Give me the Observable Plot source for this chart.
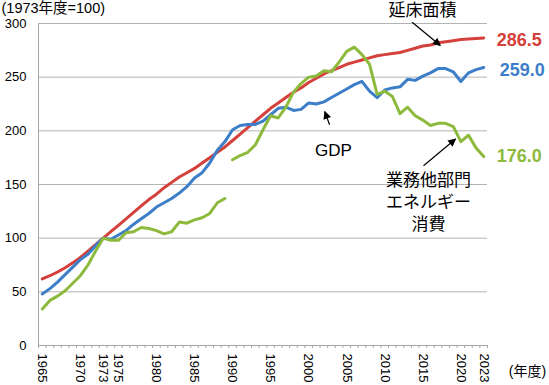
<!DOCTYPE html>
<html>
<head>
<meta charset="utf-8">
<script src="https://cdn.jsdelivr.net/npm/d3@7"></script>
<script src="https://cdn.jsdelivr.net/npm/@observablehq/plot@0.6"></script>
<style>
  html, body { margin: 0; padding: 0; background: white; }
</style>
</head>
<body>
<script>
// ---- data (1973年度 = 100) ----
const years = [1965,1966,1967,1968,1969,1970,1971,1972,1973,1974,1975,1976,1977,1978,1979,
  1980,1981,1982,1983,1984,1985,1986,1987,1988,1989,1990,1991,1992,1993,1994,1995,1996,1997,
  1998,1999,2000,2001,2002,2003,2004,2005,2006,2007,2008,2009,2010,2011,2012,2013,2014,2015,
  2016,2017,2018,2019,2020,2021,2022,2023];

const floorArea = [62,65,68.5,72.5,77,82,88,94,100,106,112,118,124,130,136,
  141,147,152,157,161,165,170,175,180,185,191,197,203,209,215,221,226,231,
  236,240,245,249,253,256,259,262,264,266,268,270,271,272,273,275,277,279,
  280,282,283,284,285,285.5,286,286.5];

const gdp = [48,53,59,66,73,80,85,93,100,99,103,107,113,118,123,
  129,133,137,142,148,156,161,170,182,190,201,205,206,206,209,215,221,222,
  219,220,226,225,227,231,235,239,243,246,237,231,238,240,241,248,247,251,
  254,258,258,255,246,254,257,259];

const energy = [34,42,46,51,58,65,75,88,100,98,98,105,106,110,109,
  107,104,106,115,114,117,119,123,133,137,173,177,180,187,201,214,212,222,
  236,244,250,251,256,255,264,274,278,271,262,234,237,232,216,222,214,210,
  205,207,207,204,190,196,184,176];

// statistics break: series is drawn as two segments (through 1989 / from 1990)
const energyBreakYear = 1990;

const yTicks = [0, 50, 100, 150, 200, 250, 300];
const xTickLabels = [1965,1970,1973,1975,1980,1985,1990,1995,2000,2005,2010,2015,2020,2023];
const seriesNames = { floor: "延床面積", gdp: "GDP", energy: "業務他部門\nエネルギー\n消費" };
const unitLabel = "(1973年度=100)";
const xUnitLabel = "(年度)";

// ---- build tables ----
const floorRows = years.map((year, i) => ({year, value: floorArea[i]}));
const gdpRows = years.map((year, i) => ({year, value: gdp[i]}));
const energyRows = years.map((year, i) => ({year, value: energy[i], seg: year < energyBreakYear ? 1 : 2}));
const boundaries = years.map(y => y - 0.5).concat([years[years.length - 1] + 0.5]);

const RED = "#d4403a", BLUE = "#3d7ec9", GREEN = "#8dba3c", AXIS = "#a6a6a6", GRID = "#b3b3b3";
const FONT = "'Liberation Sans', Arial, 'Noto Sans CJK JP', sans-serif";

const last = rows => [rows[rows.length - 1]];

const chart = Plot.plot({
  width: 549,
  height: 385,
  marginLeft: 38,
  marginRight: 62,
  marginTop: 23,
  marginBottom: 40,
  style: { fontFamily: FONT, fontSize: "13px", background: "white", color: "black", overflow: "visible" },
  x: { domain: [years[0] - 0.5, years[years.length - 1] + 0.5], axis: null },
  y: { domain: [0, 300], axis: null },
  marks: [
    Plot.gridY(yTicks.slice(1), { stroke: GRID, strokeOpacity: 1, strokeWidth: 1 }),
    Plot.axisY(yTicks, { anchor: "left", tickSize: 0, tickPadding: 12, fontSize: 13, label: null }),
    Plot.ruleX([boundaries[0]], { stroke: AXIS, strokeWidth: 1 }),
    Plot.ruleY([0], { stroke: AXIS, strokeWidth: 1 }),
    Plot.axisX(boundaries, { anchor: "bottom", tickSize: 3, tickFormat: () => "", stroke: AXIS, label: null }),
    Plot.axisX(xTickLabels, { anchor: "bottom", tickSize: 0, tickPadding: 8, tickRotate: 90,
      tickFormat: d => String(d), fontSize: 13, label: null }),

    Plot.line(floorRows, { x: "year", y: "value", stroke: RED, strokeWidth: 3 }),
    Plot.line(gdpRows, { x: "year", y: "value", stroke: BLUE, strokeWidth: 3 }),
    Plot.line(energyRows, { x: "year", y: "value", z: "seg", stroke: GREEN, strokeWidth: 3 }),

    Plot.text(last(floorRows), { x: "year", y: "value", text: d => d.value.toFixed(1), dx: 13, dy: 2,
      textAnchor: "start", fill: RED, fontSize: 18, fontWeight: "bold" }),
    Plot.text(last(gdpRows), { x: "year", y: "value", text: d => d.value.toFixed(1), dx: 16, dy: 3,
      textAnchor: "start", fill: BLUE, fontSize: 18, fontWeight: "bold" }),
    Plot.text(last(energyRows), { x: "year", y: "value", text: d => d.value.toFixed(1), dx: 13, dy: 0,
      textAnchor: "start", fill: GREEN, fontSize: 18, fontWeight: "bold" }),

    // annotations
    Plot.text([seriesNames.floor], { x: 2014.96, y: 312.1, text: d => d, fontSize: 17, fill: "black",
      textAnchor: "middle", lineAnchor: "middle" }),
    Plot.text([seriesNames.gdp], { x: 2003.27, y: 181.5, text: d => d, fontSize: 17, fill: "black",
      textAnchor: "middle", lineAnchor: "middle" }),
    Plot.text([seriesNames.energy], { x: 2015.75, y: 134.8, text: d => d, fontSize: 17, fill: "black",
      textAnchor: "middle", lineAnchor: "middle", lineHeight: 1.32 }),
    Plot.link([
      { x1: 2013.6, y1: 301.2, x2: 2017.3, y2: 279.5 },
      { x1: 2002.75, y1: 205.7, x2: 2002.12, y2: 217.9 },
      { x1: 2015.09, y1: 167.5, x2: 2019.3, y2: 192.4 }
    ], { x1: "x1", y1: "y1", x2: "x2", y2: "y2", stroke: "black", strokeWidth: 1.2 }),

    Plot.text([unitLabel], { frameAnchor: "top-left", dx: -37, dy: -15, text: d => d, fontSize: 14.5,
      textAnchor: "start", lineAnchor: "middle", fill: "black" }),
    Plot.text([xUnitLabel], { frameAnchor: "bottom-right", dx: 40, dy: 26, text: d => d, fontSize: 14,
      textAnchor: "middle", lineAnchor: "middle", fill: "black" })
  ]
});

document.body.append(chart);

// filled arrow heads for the annotation links
const svgSel = d3.select(chart);
const defs = svgSel.insert("defs", ":first-child");
defs.append("marker")
  .attr("id", "ahead")
  .attr("viewBox", "0 0 10 10")
  .attr("refX", 9).attr("refY", 5)
  .attr("markerUnits", "userSpaceOnUse")
  .attr("markerWidth", 9).attr("markerHeight", 8)
  .attr("orient", "auto")
  .append("path").attr("d", "M0,0L10,5L0,10z").attr("fill", "black");
svgSel.selectAll("g[aria-label='link'] path").attr("marker-end", "url(#ahead)");
</script>
</body>
</html>
